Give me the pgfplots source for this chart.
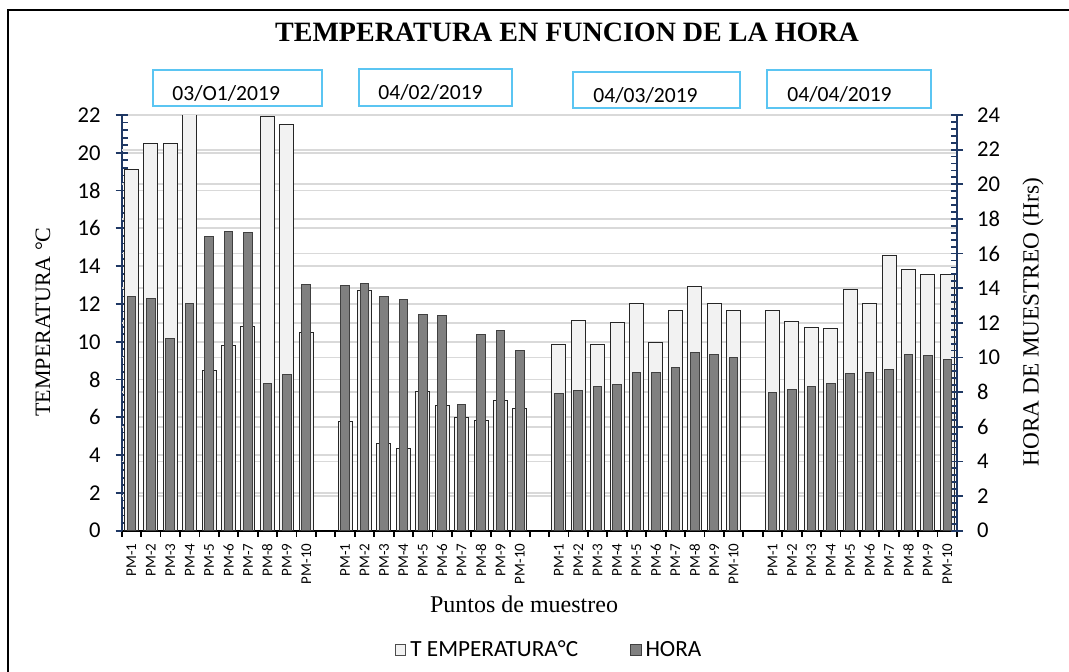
\documentclass[border=0pt]{standalone}
\usepackage{fontspec}
\setmainfont{Liberation Serif}
\newfontfamily\calibri{Carlito}
\usepackage{pgfplots}
\usepackage{pgfplotstable}
\pgfplotsset{compat=1.18}

\definecolor{axisNavy}{HTML}{1F3864}
\definecolor{gridGray}{HTML}{D9D9D9}
\definecolor{tempFill}{HTML}{F2F2F2}
\definecolor{horaFill}{HTML}{808080}
\definecolor{horaEdge}{HTML}{404040}
\definecolor{boxBlue}{HTML}{5BC5F2}

% x = posicion de la categoria (10, 21 y 32 quedan vacias entre fechas)
\pgfplotstableread{
x temp hora
0  19.1  13.5
1  20.5  13.4
2  20.5  11.1
3  23.0  13.1
4  8.5   17.0
5  9.8   17.3
6  10.8  17.2
7  21.9  8.5
8  21.5  9.0
9  10.5  14.2
11 5.8   14.15
12 12.7  14.25
13 4.6   13.5
14 4.35  13.35
15 7.35  12.5
16 6.65  12.45
17 6.0   7.3
18 5.85  11.35
19 6.9   11.55
20 6.45  10.4
22 9.85  7.95
23 11.15 8.1
24 9.85  8.3
25 11.0  8.45
26 12.0  9.15
27 9.95  9.15
28 11.65 9.4
29 12.95 10.3
30 12.0  10.15
31 11.65 10.0
33 11.65 8.0
34 11.05 8.15
35 10.75 8.35
36 10.7  8.5
37 12.75 9.05
38 12.0  9.15
39 14.55 9.3
40 13.85 10.2
41 13.55 10.1
42 13.55 9.9
}\datos

\pgfplotsset{
  comun/.style={
    at={(60.85pt,70.15pt)}, anchor=south west,
    scale only axis, width=417.65pt, height=207.85pt,
    xmin=-0.5, xmax=42.5, ymin=0,
    ybar,
    tick align=center, major tick length=6pt, minor tick length=3pt,
    minor y tick num=4,
    /pgf/number format/assume math mode=true,
    yticklabel style={font=\calibri\fontsize{11.3}{13}\selectfont},
  }
}

\begin{document}
\begin{tikzpicture}
\useasboundingbox (0,0) rectangle (534.5pt,335.5pt);

% temperatura, eje izquierdo
\begin{axis}[comun,
  ymax=22, bar width=0.72,
  axis x line*=bottom, axis y line*=left,
  ytick={0,2,...,22},
  xtick={0,1,2,3,4,5,6,7,8,9,11,12,13,14,15,16,17,18,19,20,22,23,24,25,26,27,28,29,30,31,33,34,35,36,37,38,39,40,41,42},
  xticklabels={PM-1,PM-2,PM-3,PM-4,PM-5,PM-6,PM-7,PM-8,PM-9,PM-10,
               PM-1,PM-2,PM-3,PM-4,PM-5,PM-6,PM-7,PM-8,PM-9,PM-10,
               PM-1,PM-2,PM-3,PM-4,PM-5,PM-6,PM-7,PM-8,PM-9,PM-10,
               PM-1,PM-2,PM-3,PM-4,PM-5,PM-6,PM-7,PM-8,PM-9,PM-10},
  minor xtick={-0.5,0.5,...,42.5},
  xticklabel style={font=\calibri\fontsize{7.5}{8}\selectfont, rotate=90, anchor=east},
  yticklabel style={xshift=-4pt},
  major x tick style={draw=none},
  minor x tick style={black, line width=0.9pt, yshift=-1.5pt},
  major y tick style={axisNavy, line width=0.9pt},
  minor y tick style={axisNavy, line width=0.9pt, xshift=1.5pt},
  x axis line style={black, line width=0.9pt},
  y axis line style={axisNavy, line width=0.9pt},
  ymajorgrids, grid style={gridGray, line width=0.9pt},
  extra y ticks={1.8333,3.6667,5.5,7.3333,9.1667,11,12.8333,14.6667,16.5,18.3333,20.1667},
  extra y tick labels={},
  extra y tick style={major tick length=0pt, grid=major},
]
\addplot[fill=tempFill, draw=black!85, line width=0.5pt] table[x=x, y=temp] {\datos};
\end{axis}

% hora, eje derecho
\begin{axis}[comun,
  ymax=24, bar width=0.44,
  axis x line=none, axis y line*=right,
  ytick={0,2,...,24},
  yticklabel style={anchor=west, xshift=3.5pt},
  major y tick style={axisNavy, line width=0.9pt},
  minor y tick style={axisNavy, line width=0.9pt, xshift=-1.5pt},
  y axis line style={axisNavy, line width=0.9pt},
  legend style={at={(0.513,-0.287)}, anchor=center, draw=none, fill=none,
    legend columns=2, font=\calibri\fontsize{11.6}{13}\selectfont,
    /tikz/every even column/.append style={column sep=24pt}},
  legend image code/.code={\draw[#1, line width=0.5pt] (0pt,-2.6pt) rectangle (5.2pt,2.6pt);},
]
\addlegendimage{fill=tempFill, draw=black!70}
\addplot[fill=horaFill, draw=horaEdge, line width=0.5pt] table[x=x, y=hora] {\datos};
\legend{T EMPERATURA°C, HORA}
\end{axis}

% textos y recuadros, en pixeles de la imagen
\begin{scope}[x=0.5pt, y=-0.5pt, yshift=335.5pt]
  \draw[black, line width=1pt] (8,700) -- (8,10) -- (1100,10);
  \node[font=\bfseries\fontsize{14}{16}\selectfont] at (567,32) {TEMPERATURA EN FUNCION DE LA HORA};
  \draw[boxBlue, line width=0.75pt, fill=white] (153,70) rectangle (322,106);
  \draw[boxBlue, line width=0.75pt, fill=white] (359,69) rectangle (512,106);
  \draw[boxBlue, line width=0.75pt, fill=white] (573,72) rectangle (740,108);
  \draw[boxBlue, line width=0.75pt, fill=white] (767,70) rectangle (931,108);
  \begin{scope}[every node/.style={font=\calibri\fontsize{10.8}{12}\selectfont, anchor=west, inner sep=0pt}]
    \node at (172,93) {03/O1/2019};
    \node at (378,92) {04/02/2019};
    \node at (593,95) {04/03/2019};
    \node at (787,94) {04/04/2019};
  \end{scope}
  \node[rotate=90, font=\fontsize{11}{13}\selectfont] at (43,322) {TEMPERATURA °C};
  \node[rotate=90, font=\fontsize{11.6}{13}\selectfont] at (1033,322) {HORA DE MUESTREO (Hrs)};
  \node[font=\fontsize{12}{14}\selectfont] at (524,604) {Puntos de muestreo};
\end{scope}
\end{tikzpicture}
\end{document}
